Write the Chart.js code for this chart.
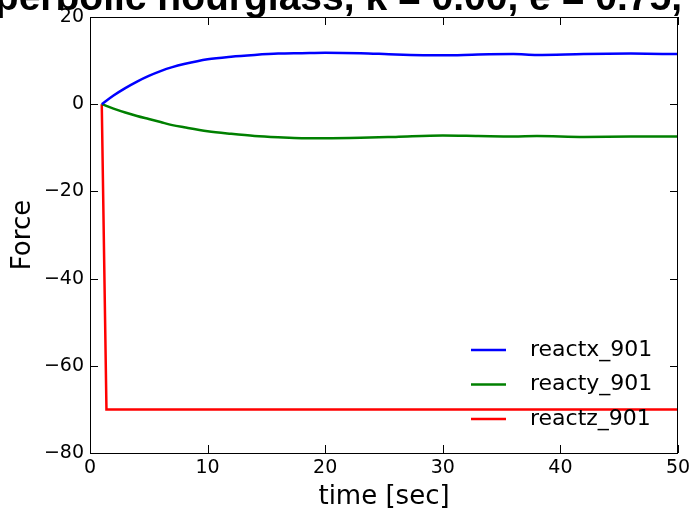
<!DOCTYPE html>
<html>
<head>
<meta charset="utf-8">
<script src="https://cdn.jsdelivr.net/npm/chart.js@4.4.1/dist/chart.umd.min.js"></script>
<style>
  html, body { margin: 0; padding: 0; background: #fff; }
  #wrap { width: 691px; height: 511px; }
</style>
</head>
<body>
<div id="wrap"><canvas id="chart" width="691" height="511"></canvas></div>
<script>
const titleText = 'Hyperbolic hourglass, k = 0.00, e = 0.75,';
const xTicks = [0, 10, 20, 30, 40, 50];
const yTicks = [-80, -60, -40, -20, 0, 20];

const timeX = [1, 2, 3, 4, 5, 6, 7, 8, 10, 12, 14, 16, 18, 20, 23, 26, 30, 33, 36, 38, 42, 46, 50];
const reactx = [0, 2.0, 3.7, 5.2, 6.5, 7.6, 8.5, 9.2, 10.3, 10.9, 11.3, 11.6, 11.7, 11.8, 11.7, 11.4, 11.2, 11.4, 11.5, 11.3, 11.5, 11.6, 11.5];
const reacty = [0, -1.0, -1.9, -2.7, -3.4, -4.1, -4.8, -5.3, -6.2, -6.8, -7.3, -7.6, -7.8, -7.8, -7.7, -7.5, -7.2, -7.3, -7.4, -7.3, -7.5, -7.4, -7.4];
const timeZ = [1, 1.4, 50];
const reactz = [0, -70, -70];

const pts = (xs, ys) => xs.map((x, i) => ({ x, y: ys[i] }));
const minus = v => String(v).replace('-', '\u2212');

// matplotlib-like frame: box, inward ticks on all sides, legend and clipped title
const framePlugin = {
  id: 'frame',
  afterDraw(chart) {
    const { ctx, chartArea: a, scales } = chart;
    ctx.save();
    ctx.strokeStyle = '#000';
    ctx.lineWidth = 1;
    ctx.strokeRect(a.left + 0.5, a.top + 0.5, a.right - a.left - 1, a.bottom - a.top);
    ctx.beginPath();
    xTicks.forEach(t => {
      const px = Math.round(scales.x.getPixelForValue(t)) + 0.5;
      ctx.moveTo(px, a.bottom); ctx.lineTo(px, a.bottom - 8);
      ctx.moveTo(px, a.top); ctx.lineTo(px, a.top + 8);
    });
    yTicks.forEach(t => {
      const py = Math.round(scales.y.getPixelForValue(t)) + 0.5;
      ctx.moveTo(a.left, py); ctx.lineTo(a.left + 8, py);
      ctx.moveTo(a.right, py); ctx.lineTo(a.right - 8, py);
    });
    ctx.stroke();

    // legend, lower right, no frame
    ctx.font = '22px "DejaVu Sans"';
    ctx.textBaseline = 'middle';
    chart.data.datasets.forEach((ds, i) => {
      const y = 350 + i * 34.5;
      ctx.strokeStyle = ds.borderColor;
      ctx.lineWidth = 2.5;
      ctx.beginPath(); ctx.moveTo(471, y); ctx.lineTo(506, y); ctx.stroke();
      ctx.fillStyle = '#000';
      ctx.fillText(ds.label, 530, y);
    });

    // title, cut off by the top edge
    ctx.font = 'bold 39px "Liberation Sans"';
    ctx.textAlign = 'right';
    ctx.textBaseline = 'alphabetic';
    ctx.fillStyle = '#000';
    ctx.fillText(titleText, 682, 10);
    ctx.restore();
  }
};

new Chart(document.getElementById('chart'), {
  type: 'scatter',
  data: {
    datasets: [
      { label: 'reactx_901', data: pts(timeX, reactx), borderColor: '#0000ff', cubicInterpolationMode: 'monotone' },
      { label: 'reacty_901', data: pts(timeX, reacty), borderColor: '#008000', cubicInterpolationMode: 'monotone' },
      { label: 'reactz_901', data: pts(timeZ, reactz), borderColor: '#ff0000', tension: 0 }
    ]
  },
  options: {
    responsive: false,
    animation: false,
    showLine: true,
    layout: { padding: { top: 17, right: 13, left: 0, bottom: 0 } },
    elements: {
      point: { radius: 0, hoverRadius: 0 },
      line: { borderWidth: 2.5, fill: false }
    },
    plugins: { legend: { display: false }, tooltip: { enabled: false } },
    scales: {
      x: {
        type: 'linear', min: 0, max: 50,
        afterBuildTicks: s => { s.ticks = xTicks.map(v => ({ value: v })); },
        afterFit: s => { s.height = 58; s.paddingLeft = 0; s.paddingRight = 0; },
        grid: { display: false, drawTicks: false },
        border: { display: false },
        ticks: { color: '#000', font: { family: 'DejaVu Sans', size: 19 }, padding: 4, maxRotation: 0 },
        title: { display: true, text: 'time [sec]', color: '#000', font: { family: 'DejaVu Sans', size: 26 }, padding: { top: 0, bottom: -2 } }
      },
      y: {
        type: 'linear', min: -80, max: 20,
        afterBuildTicks: s => { s.ticks = yTicks.map(v => ({ value: v })); },
        afterFit: s => { s.width = 90; s.paddingTop = 0; s.paddingBottom = 0; },
        grid: { display: false, drawTicks: false },
        border: { display: false },
        ticks: { color: '#000', font: { family: 'DejaVu Sans', size: 19 }, padding: 6, callback: v => minus(v) },
        title: { display: true, text: 'Force', color: '#000', font: { family: 'DejaVu Sans', size: 26 }, padding: { top: 8, bottom: 0 } }
      }
    }
  },
  plugins: [framePlugin]
});
</script>
</body>
</html>
